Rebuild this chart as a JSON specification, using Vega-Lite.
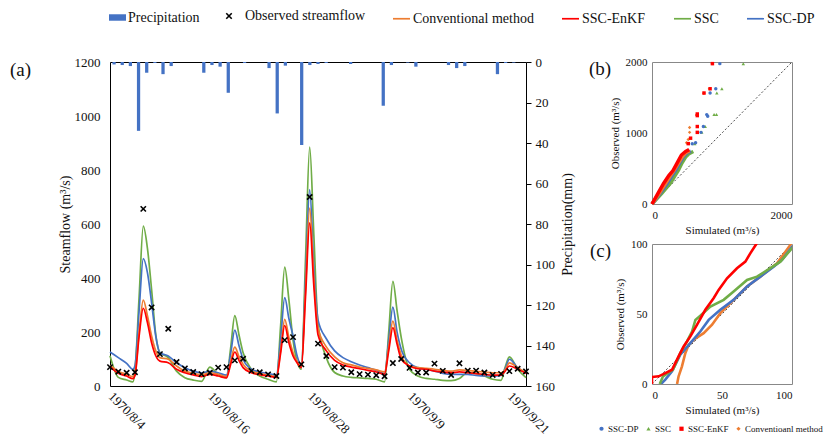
{
"$schema": "https://vega.github.io/schema/vega-lite/v6.json",
"padding": {"left": 10, "top": 9, "right": 0, "bottom": 0},
"bounds": "flush",
"spacing": 126,
"config": {
 "font": "Liberation Serif",
 "view": {"stroke": null},
 "axis": {"labelFont": "Liberation Serif", "titleFont": "Liberation Serif", "labelColor": "#111", "titleColor": "#111", "titleFontWeight": "normal", "grid": false},
 "legend": {"labelFont": "Liberation Serif", "labelColor": "#111"},
 "title": {"font": "Liberation Serif", "fontWeight": "normal", "color": "#111"}
},
"resolve": {
 "scale": {"stroke": "independent", "shape": "independent", "color": "independent", "fill": "independent"},
 "legend": {"stroke": "independent", "shape": "independent", "color": "independent", "fill": "independent"}
},
"datasets": {
 "sim": [
  {"t":"1970-08-04T00:00","SSC":112,"SSC-DP":126,"Conventional method":76,"SSC-EnKF":72},
  {"t":"1970-08-05T00:00","SSC":32,"SSC-DP":105,"Conventional method":55,"SSC-EnKF":47},
  {"t":"1970-08-06T00:00","SSC":22,"SSC-DP":84,"Conventional method":43,"SSC-EnKF":37},
  {"t":"1970-08-06T18:00","SSC":15,"SSC-DP":62,"Conventional method":35,"SSC-EnKF":27},
  {"t":"1970-08-07T00:00","SSC":55,"SSC-DP":75,"Conventional method":45,"SSC-EnKF":38},
  {"t":"1970-08-07T12:00","SSC":330,"SSC-DP":280,"Conventional method":200,"SSC-EnKF":185},
  {"t":"1970-08-08T00:00","SSC":592,"SSC-DP":472,"Conventional method":318,"SSC-EnKF":288},
  {"t":"1970-08-08T12:00","SSC":510,"SSC-DP":420,"Conventional method":260,"SSC-EnKF":235},
  {"t":"1970-08-09T00:00","SSC":357,"SSC-DP":308,"Conventional method":185,"SSC-EnKF":160},
  {"t":"1970-08-09T12:00","SSC":190,"SSC-DP":185,"Conventional method":130,"SSC-EnKF":112},
  {"t":"1970-08-10T00:00","SSC":123,"SSC-DP":123,"Conventional method":105,"SSC-EnKF":92},
  {"t":"1970-08-11T00:00","SSC":105,"SSC-DP":111,"Conventional method":99,"SSC-EnKF":86},
  {"t":"1970-08-12T00:00","SSC":55,"SSC-DP":86,"Conventional method":74,"SSC-EnKF":62},
  {"t":"1970-08-13T00:00","SSC":31,"SSC-DP":68,"Conventional method":55,"SSC-EnKF":49},
  {"t":"1970-08-14T00:00","SSC":22,"SSC-DP":55,"Conventional method":47,"SSC-EnKF":41},
  {"t":"1970-08-15T00:00","SSC":17,"SSC-DP":49,"Conventional method":41,"SSC-EnKF":35},
  {"t":"1970-08-16T00:00","SSC":70,"SSC-DP":54,"Conventional method":49,"SSC-EnKF":43},
  {"t":"1970-08-17T00:00","SSC":43,"SSC-DP":49,"Conventional method":43,"SSC-EnKF":37},
  {"t":"1970-08-18T00:00","SSC":31,"SSC-DP":40,"Conventional method":35,"SSC-EnKF":30},
  {"t":"1970-08-18T12:00","SSC":140,"SSC-DP":120,"Conventional method":90,"SSC-EnKF":80},
  {"t":"1970-08-19T00:00","SSC":261,"SSC-DP":207,"Conventional method":144,"SSC-EnKF":126},
  {"t":"1970-08-19T12:00","SSC":190,"SSC-DP":150,"Conventional method":110,"SSC-EnKF":95},
  {"t":"1970-08-20T00:00","SSC":123,"SSC-DP":99,"Conventional method":80,"SSC-EnKF":68},
  {"t":"1970-08-21T00:00","SSC":62,"SSC-DP":62,"Conventional method":55,"SSC-EnKF":49},
  {"t":"1970-08-22T00:00","SSC":37,"SSC-DP":52,"Conventional method":47,"SSC-EnKF":42},
  {"t":"1970-08-23T00:00","SSC":25,"SSC-DP":46,"Conventional method":40,"SSC-EnKF":37},
  {"t":"1970-08-24T00:00","SSC":15,"SSC-DP":41,"Conventional method":35,"SSC-EnKF":32},
  {"t":"1970-08-24T12:00","SSC":220,"SSC-DP":170,"Conventional method":130,"SSC-EnKF":120},
  {"t":"1970-08-25T00:00","SSC":440,"SSC-DP":327,"Conventional method":247,"SSC-EnKF":224},
  {"t":"1970-08-25T12:00","SSC":320,"SSC-DP":250,"Conventional method":180,"SSC-EnKF":160},
  {"t":"1970-08-26T00:00","SSC":170,"SSC-DP":185,"Conventional method":123,"SSC-EnKF":111},
  {"t":"1970-08-26T12:00","SSC":90,"SSC-DP":110,"Conventional method":90,"SSC-EnKF":85},
  {"t":"1970-08-27T00:00","SSC":62,"SSC-DP":78,"Conventional method":74,"SSC-EnKF":68},
  {"t":"1970-08-27T12:00","SSC":470,"SSC-DP":400,"Conventional method":360,"SSC-EnKF":330},
  {"t":"1970-08-28T00:00","SSC":885,"SSC-DP":727,"Conventional method":659,"SSC-EnKF":604},
  {"t":"1970-08-28T12:00","SSC":560,"SSC-DP":440,"Conventional method":400,"SSC-EnKF":370},
  {"t":"1970-08-29T00:00","SSC":230,"SSC-DP":245,"Conventional method":215,"SSC-EnKF":190},
  {"t":"1970-08-30T00:00","SSC":105,"SSC-DP":175,"Conventional method":145,"SSC-EnKF":130},
  {"t":"1970-08-31T00:00","SSC":50,"SSC-DP":130,"Conventional method":108,"SSC-EnKF":95},
  {"t":"1970-09-01T00:00","SSC":37,"SSC-DP":105,"Conventional method":86,"SSC-EnKF":78},
  {"t":"1970-09-02T00:00","SSC":32,"SSC-DP":90,"Conventional method":78,"SSC-EnKF":70},
  {"t":"1970-09-03T00:00","SSC":30,"SSC-DP":78,"Conventional method":70,"SSC-EnKF":64},
  {"t":"1970-09-04T00:00","SSC":28,"SSC-DP":68,"Conventional method":65,"SSC-EnKF":58},
  {"t":"1970-09-05T00:00","SSC":25,"SSC-DP":58,"Conventional method":60,"SSC-EnKF":52},
  {"t":"1970-09-06T00:00","SSC":15,"SSC-DP":46,"Conventional method":52,"SSC-EnKF":44},
  {"t":"1970-09-06T12:00","SSC":200,"SSC-DP":170,"Conventional method":145,"SSC-EnKF":130},
  {"t":"1970-09-07T00:00","SSC":388,"SSC-DP":292,"Conventional method":240,"SSC-EnKF":216},
  {"t":"1970-09-07T12:00","SSC":280,"SSC-DP":200,"Conventional method":170,"SSC-EnKF":155},
  {"t":"1970-09-08T00:00","SSC":180,"SSC-DP":136,"Conventional method":115,"SSC-EnKF":100},
  {"t":"1970-09-09T00:00","SSC":62,"SSC-DP":86,"Conventional method":74,"SSC-EnKF":74},
  {"t":"1970-09-10T00:00","SSC":37,"SSC-DP":68,"Conventional method":68,"SSC-EnKF":64},
  {"t":"1970-09-11T00:00","SSC":28,"SSC-DP":62,"Conventional method":65,"SSC-EnKF":62},
  {"t":"1970-09-12T00:00","SSC":25,"SSC-DP":55,"Conventional method":62,"SSC-EnKF":55},
  {"t":"1970-09-13T00:00","SSC":21,"SSC-DP":47,"Conventional method":58,"SSC-EnKF":52},
  {"t":"1970-09-14T00:00","SSC":20,"SSC-DP":43,"Conventional method":55,"SSC-EnKF":49},
  {"t":"1970-09-15T00:00","SSC":28,"SSC-DP":43,"Conventional method":60,"SSC-EnKF":52},
  {"t":"1970-09-16T00:00","SSC":50,"SSC-DP":43,"Conventional method":58,"SSC-EnKF":49},
  {"t":"1970-09-17T00:00","SSC":47,"SSC-DP":39,"Conventional method":54,"SSC-EnKF":46},
  {"t":"1970-09-18T00:00","SSC":37,"SSC-DP":37,"Conventional method":52,"SSC-EnKF":43},
  {"t":"1970-09-19T00:00","SSC":25,"SSC-DP":37,"Conventional method":49,"SSC-EnKF":40},
  {"t":"1970-09-20T00:00","SSC":21,"SSC-DP":39,"Conventional method":49,"SSC-EnKF":40},
  {"t":"1970-09-20T12:00","SSC":70,"SSC-DP":65,"Conventional method":60,"SSC-EnKF":55},
  {"t":"1970-09-21T00:00","SSC":108,"SSC-DP":99,"Conventional method":86,"SSC-EnKF":74},
  {"t":"1970-09-22T00:00","SSC":62,"SSC-DP":68,"Conventional method":68,"SSC-EnKF":62},
  {"t":"1970-09-23T00:00","SSC":31,"SSC-DP":47,"Conventional method":49,"SSC-EnKF":47}
 ],
 "obs": [
  {"t":"1970-08-04T00:00","q":70},{"t":"1970-08-05T00:00","q":53},{"t":"1970-08-06T00:00","q":49},{"t":"1970-08-07T00:00","q":51},
  {"t":"1970-08-08T00:00","q":656},{"t":"1970-08-09T00:00","q":291},{"t":"1970-08-10T00:00","q":118},{"t":"1970-08-11T00:00","q":212},
  {"t":"1970-08-12T00:00","q":89},{"t":"1970-08-13T00:00","q":65},{"t":"1970-08-14T00:00","q":52},{"t":"1970-08-15T00:00","q":44},
  {"t":"1970-08-16T00:00","q":49},{"t":"1970-08-17T00:00","q":68},{"t":"1970-08-18T00:00","q":70},{"t":"1970-08-19T00:00","q":95},
  {"t":"1970-08-20T00:00","q":101},{"t":"1970-08-21T00:00","q":56},{"t":"1970-08-22T00:00","q":51},{"t":"1970-08-23T00:00","q":43},
  {"t":"1970-08-24T00:00","q":37},{"t":"1970-08-25T00:00","q":170},{"t":"1970-08-26T00:00","q":181},{"t":"1970-08-27T00:00","q":80},
  {"t":"1970-08-28T00:00","q":700},{"t":"1970-08-29T00:00","q":157},{"t":"1970-08-30T00:00","q":111},{"t":"1970-08-31T00:00","q":70},
  {"t":"1970-09-01T00:00","q":68},{"t":"1970-09-02T00:00","q":51},{"t":"1970-09-03T00:00","q":44},{"t":"1970-09-04T00:00","q":42},
  {"t":"1970-09-05T00:00","q":40},{"t":"1970-09-06T00:00","q":36},{"t":"1970-09-07T00:00","q":85},{"t":"1970-09-08T00:00","q":100},
  {"t":"1970-09-09T00:00","q":67},{"t":"1970-09-10T00:00","q":50},{"t":"1970-09-11T00:00","q":50},{"t":"1970-09-12T00:00","q":83},
  {"t":"1970-09-13T00:00","q":56},{"t":"1970-09-14T00:00","q":41},{"t":"1970-09-15T00:00","q":84},{"t":"1970-09-16T00:00","q":57},
  {"t":"1970-09-17T00:00","q":57},{"t":"1970-09-18T00:00","q":50},{"t":"1970-09-19T00:00","q":41},{"t":"1970-09-20T00:00","q":45},
  {"t":"1970-09-21T00:00","q":55},{"t":"1970-09-22T00:00","q":64},{"t":"1970-09-23T00:00","q":54}
 ],
 "precip": [
  {"t":"1970-08-04","p":1.2},{"t":"1970-08-05","p":1.5},{"t":"1970-08-06","p":2},{"t":"1970-08-07","p":34},
  {"t":"1970-08-08","p":5.3},{"t":"1970-08-09","p":0.5},{"t":"1970-08-10","p":6},{"t":"1970-08-11","p":2},
  {"t":"1970-08-12","p":0},{"t":"1970-08-13","p":0},{"t":"1970-08-14","p":0},{"t":"1970-08-15","p":5.3},
  {"t":"1970-08-16","p":1.5},{"t":"1970-08-17","p":2.3},{"t":"1970-08-18","p":15.2},{"t":"1970-08-19","p":0},
  {"t":"1970-08-20","p":0.5},{"t":"1970-08-21","p":0},{"t":"1970-08-22","p":0},{"t":"1970-08-23","p":3},
  {"t":"1970-08-24","p":25.4},{"t":"1970-08-25","p":1.8},{"t":"1970-08-26","p":0},{"t":"1970-08-27","p":41},
  {"t":"1970-08-28","p":1.5},{"t":"1970-08-29","p":1},{"t":"1970-08-30","p":0.5},{"t":"1970-08-31","p":0},
  {"t":"1970-09-01","p":0},{"t":"1970-09-02","p":1},{"t":"1970-09-03","p":0},{"t":"1970-09-04","p":0},
  {"t":"1970-09-05","p":0},{"t":"1970-09-06","p":21.6},{"t":"1970-09-07","p":1.5},{"t":"1970-09-08","p":0},
  {"t":"1970-09-09","p":0.3},{"t":"1970-09-10","p":2.3},{"t":"1970-09-11","p":0},{"t":"1970-09-12","p":0},
  {"t":"1970-09-13","p":0},{"t":"1970-09-14","p":1.5},{"t":"1970-09-15","p":3},{"t":"1970-09-16","p":2},
  {"t":"1970-09-17","p":0},{"t":"1970-09-18","p":0},{"t":"1970-09-19","p":0},{"t":"1970-09-20","p":6},
  {"t":"1970-09-21","p":0.5},{"t":"1970-09-22","p":0.3},{"t":"1970-09-23","p":0}
 ],
 "qqb_lines": [
  {"s":"SSC","sim":0,"obs":0},{"s":"SSC","sim":140,"obs":150},{"s":"SSC","sim":260,"obs":290},{"s":"SSC","sim":330,"obs":400},{"s":"SSC","sim":380,"obs":480},{"s":"SSC","sim":430,"obs":580},{"s":"SSC","sim":480,"obs":660},{"s":"SSC","sim":530,"obs":710},{"s":"SSC","sim":590,"obs":740},
  {"s":"SSC-DP","sim":0,"obs":0},{"s":"SSC-DP","sim":115,"obs":150},{"s":"SSC-DP","sim":215,"obs":290},{"s":"SSC-DP","sim":285,"obs":400},{"s":"SSC-DP","sim":340,"obs":480},{"s":"SSC-DP","sim":395,"obs":580},{"s":"SSC-DP","sim":445,"obs":660},{"s":"SSC-DP","sim":500,"obs":720},{"s":"SSC-DP","sim":555,"obs":745},
  {"s":"Conventioanl method","sim":0,"obs":0},{"s":"Conventioanl method","sim":105,"obs":150},{"s":"Conventioanl method","sim":195,"obs":290},{"s":"Conventioanl method","sim":265,"obs":400},{"s":"Conventioanl method","sim":320,"obs":480},{"s":"Conventioanl method","sim":380,"obs":580},{"s":"Conventioanl method","sim":430,"obs":660},{"s":"Conventioanl method","sim":480,"obs":720},{"s":"Conventioanl method","sim":540,"obs":750},
  {"s":"SSC-EnKF","sim":0,"obs":0},{"s":"SSC-EnKF","sim":85,"obs":150},{"s":"SSC-EnKF","sim":165,"obs":290},{"s":"SSC-EnKF","sim":240,"obs":400},{"s":"SSC-EnKF","sim":300,"obs":470},{"s":"SSC-EnKF","sim":360,"obs":580},{"s":"SSC-EnKF","sim":420,"obs":690},{"s":"SSC-EnKF","sim":480,"obs":740},{"s":"SSC-EnKF","sim":530,"obs":765}
 ],
 "qqb_pts": [
  {"s":"SSC","sim":610,"obs":850},{"s":"SSC","sim":710,"obs":1009},{"s":"SSC","sim":760,"obs":1091},{"s":"SSC","sim":887,"obs":1259},{"s":"SSC","sim":921,"obs":1259},{"s":"SSC","sim":926,"obs":1563},{"s":"SSC","sim":998,"obs":1623},{"s":"SSC","sim":1304,"obs":1977},
  {"s":"SSC-DP","sim":575,"obs":850},{"s":"SSC-DP","sim":623,"obs":864},{"s":"SSC-DP","sim":700,"obs":1009},{"s":"SSC-DP","sim":734,"obs":1091},{"s":"SSC-DP","sim":796,"obs":1236},{"s":"SSC-DP","sim":782,"obs":1259},{"s":"SSC-DP","sim":830,"obs":1563},{"s":"SSC-DP","sim":911,"obs":1623},{"s":"SSC-DP","sim":969,"obs":1977},
  {"s":"Conventioanl method","sim":494,"obs":864},{"s":"Conventioanl method","sim":518,"obs":909},{"s":"Conventioanl method","sim":537,"obs":1009},{"s":"Conventioanl method","sim":537,"obs":1077},{"s":"Conventioanl method","sim":640,"obs":1250},{"s":"Conventioanl method","sim":740,"obs":1560},{"s":"Conventioanl method","sim":820,"obs":1623},{"s":"Conventioanl method","sim":860,"obs":1977},
  {"s":"SSC-EnKF","sim":518,"obs":850},{"s":"SSC-EnKF","sim":551,"obs":927},{"s":"SSC-EnKF","sim":647,"obs":1009},{"s":"SSC-EnKF","sim":647,"obs":1091},{"s":"SSC-EnKF","sim":647,"obs":1245},{"s":"SSC-EnKF","sim":647,"obs":1268},{"s":"SSC-EnKF","sim":743,"obs":1563},{"s":"SSC-EnKF","sim":830,"obs":1623},{"s":"SSC-EnKF","sim":863,"obs":1977}
 ],
 "qqc": [
  {"s":"Conventioanl method","sim":17.9,"obs":0},{"s":"Conventioanl method","sim":19,"obs":5.5},{"s":"Conventioanl method","sim":21.4,"obs":12.6},{"s":"Conventioanl method","sim":23.8,"obs":22},{"s":"Conventioanl method","sim":26.2,"obs":28},{"s":"Conventioanl method","sim":29.8,"obs":31.6},{"s":"Conventioanl method","sim":36.9,"obs":36.3},{"s":"Conventioanl method","sim":42.9,"obs":42.3},{"s":"Conventioanl method","sim":48.8,"obs":50.6},{"s":"Conventioanl method","sim":58.3,"obs":60.1},{"s":"Conventioanl method","sim":67.9,"obs":69.6},{"s":"Conventioanl method","sim":77.4,"obs":76.7},{"s":"Conventioanl method","sim":89.3,"obs":86.2},{"s":"Conventioanl method","sim":98.8,"obs":99.3},{"s":"Conventioanl method","sim":100,"obs":101},
  {"s":"SSC-DP","sim":6.4,"obs":0},{"s":"SSC-DP","sim":9.5,"obs":3.1},{"s":"SSC-DP","sim":14.3,"obs":9},{"s":"SSC-DP","sim":20.2,"obs":20.9},{"s":"SSC-DP","sim":27.4,"obs":29.2},{"s":"SSC-DP","sim":34.5,"obs":37.5},{"s":"SSC-DP","sim":40.5,"obs":45.8},{"s":"SSC-DP","sim":48.8,"obs":53},{"s":"SSC-DP","sim":58.3,"obs":60.1},{"s":"SSC-DP","sim":67.9,"obs":69.6},{"s":"SSC-DP","sim":77.4,"obs":76.7},{"s":"SSC-DP","sim":86.9,"obs":83.8},{"s":"SSC-DP","sim":92.9,"obs":88.6},{"s":"SSC-DP","sim":100,"obs":98},{"s":"SSC-DP","sim":102,"obs":100},
  {"s":"SSC","sim":5.5,"obs":0},{"s":"SSC","sim":7.9,"obs":5.5},{"s":"SSC","sim":10.7,"obs":7.4},{"s":"SSC","sim":15,"obs":10.2},{"s":"SSC","sim":20.2,"obs":22},{"s":"SSC","sim":25,"obs":30.4},{"s":"SSC","sim":28.6,"obs":37.5},{"s":"SSC","sim":31,"obs":45.8},{"s":"SSC","sim":34.5,"obs":48.7},{"s":"SSC","sim":41.7,"obs":55.3},{"s":"SSC","sim":51.2,"obs":60.1},{"s":"SSC","sim":58.3,"obs":66},{"s":"SSC","sim":67.9,"obs":74.3},{"s":"SSC","sim":75,"obs":76.7},{"s":"SSC","sim":84.5,"obs":82.7},{"s":"SSC","sim":91.7,"obs":87.4},{"s":"SSC","sim":100,"obs":97},{"s":"SSC","sim":103,"obs":100},
  {"s":"SSC-EnKF","sim":0,"obs":0},{"s":"SSC-EnKF","sim":0,"obs":5},{"s":"SSC-EnKF","sim":4.8,"obs":5.5},{"s":"SSC-EnKF","sim":9.5,"obs":7.8},{"s":"SSC-EnKF","sim":14.3,"obs":10.2},{"s":"SSC-EnKF","sim":19,"obs":19.7},{"s":"SSC-EnKF","sim":22.6,"obs":26.8},{"s":"SSC-EnKF","sim":27.4,"obs":34},{"s":"SSC-EnKF","sim":32.1,"obs":42.3},{"s":"SSC-EnKF","sim":38.1,"obs":53},{"s":"SSC-EnKF","sim":44,"obs":61.3},{"s":"SSC-EnKF","sim":47.6,"obs":67.2},{"s":"SSC-EnKF","sim":53.6,"obs":75.5},{"s":"SSC-EnKF","sim":60.7,"obs":82.7},{"s":"SSC-EnKF","sim":66.7,"obs":87.4},{"s":"SSC-EnKF","sim":70.2,"obs":93.3},{"s":"SSC-EnKF","sim":74.5,"obs":100},{"s":"SSC-EnKF","sim":76,"obs":103}
 ]
},
"hconcat": [
 {
  "width": 416,
  "height": 324,
  "title": {"text": "(a)", "orient": "top", "anchor": "start", "frame": "group", "dx": -100, "dy": 71, "offset": 0, "fontSize": 19, "baseline": "top"},
  "resolve": {"scale": {"x": "independent", "y": "independent"}},
  "layer": [
   {
    "data": {"name": "precip"},
    "mark": {"type": "bar"},
    "encoding": {
     "x": {"field": "t", "type": "ordinal", "scale": {"paddingInner": 0.6, "paddingOuter": 0.3},
           "axis": {"orient": "top", "labels": false, "ticks": false, "title": null, "domainColor": "#000"}},
     "y": {"field": "p", "type": "quantitative", "scale": {"domain": [0, 160], "reverse": true, "nice": false},
           "axis": {"orient": "right", "values": [0,20,40,60,80,100,120,140,160], "format": "d", "title": "Precipitation(mm)", "titleAngle": 270, "titleBaseline": "top",
                    "titlePadding": 6, "titleFontSize": 14, "labelFontSize": 13, "labelPadding": 4, "tickSize": 5, "tickColor": "#000", "domainColor": "#000"}},
     "fill": {"datum": "Precipitation", "type": "nominal", "scale": {"range": ["#4472C4"]},
              "legend": {"orient": "none", "legendX": -1, "legendY": -53, "title": null, "symbolType": "M-1,-0.38H1V0.38H-1Z", "symbolSize": 289,
                         "symbolStrokeWidth": 0, "labelFont": "Liberation Serif", "labelFontSize": 14, "labelOffset": 2, "padding": 0}}
    }
   },
   {
    "layer": [
     {
      "data": {"name": "sim"},
      "transform": [{"fold": ["SSC", "SSC-DP", "Conventional method", "SSC-EnKF"], "as": ["series", "v"]}],
      "mark": {"type": "line", "interpolate": "monotone", "strokeWidth": 1.7},
      "encoding": {
       "x": {"field": "t", "type": "temporal",
             "scale": {"domain": [{"year": 1970, "month": 8, "date": 4}, {"year": 1970, "month": 9, "date": 23}]},
             "axis": {"values": [{"year": 1970, "month": 8, "date": 4}, {"year": 1970, "month": 8, "date": 16}, {"year": 1970, "month": 8, "date": 28}, {"year": 1970, "month": 9, "date": 9}, {"year": 1970, "month": 9, "date": 21}],
                      "format": "%Y/%-m/%-d", "labelAngle": 45, "labelAlign": "left", "labelBaseline": "middle", "ticks": false, "title": null,
                      "domainColor": "#000", "labelPadding": 8, "labelFontSize": 13, "labelOverlap": false, "labelFlush": false, "labelBound": false}},
       "y": {"field": "v", "type": "quantitative", "scale": {"domain": [0, 1200], "nice": false},
             "axis": {"values": [0,200,400,600,800,1000,1200], "format": "d", "title": "Steamflow (m³/s)", "ticks": false, "domainColor": "#000",
                      "labelPadding": 10, "titlePadding": 2, "labelFontSize": 13, "titleFontSize": 14}},
       "stroke": {"field": "series", "type": "nominal",
                  "scale": {"domain": ["Conventional method", "SSC-EnKF", "SSC", "SSC-DP"], "range": ["#ED7D31", "#FF0000", "#70AD47", "#4472C4"]},
                  "legend": {"orient": "none", "legendX": 282, "legendY": -53, "direction": "horizontal", "title": null, "symbolType": "stroke",
                             "symbolSize": 289, "symbolStrokeWidth": 1.7, "labelFont": "Liberation Serif", "labelFontSize": 14, "labelOffset": 2, "columnPadding": 24, "padding": 0}}
      }
     },
     {
      "data": {"name": "obs"},
      "mark": {"type": "point", "filled": false, "color": "#000", "strokeWidth": 1.6, "size": 28, "opacity": 1},
      "encoding": {
       "x": {"field": "t", "type": "temporal"},
       "y": {"field": "q", "type": "quantitative"},
       "shape": {"datum": "Observed streamflow", "type": "nominal", "scale": {"range": ["M-1,-1L1,1M-1,1L1,-1"]},
                 "legend": {"orient": "none", "legendX": 112, "legendY": -53, "title": null, "symbolSize": 30, "symbolStrokeColor": "#000",
                            "symbolStrokeWidth": 1.6, "symbolFillColor": "transparent", "labelFont": "Liberation Serif", "labelFontSize": 14, "labelOffset": 9, "padding": 0}}
      }
     }
    ]
   }
  ]
 },
 {
  "bounds": "flush",
  "spacing": 40,
  "resolve": {"legend": {"color": "independent", "shape": "independent"}},
  "vconcat": [
   {
    "width": 140,
    "height": 142,
    "view": {"stroke": "#888"},
    "title": {"text": "(b)", "orient": "top", "anchor": "start", "frame": "group", "dx": -63, "dy": 23, "offset": 0, "fontSize": 19, "baseline": "top"},
    "layer": [
     {
      "data": {"values": [{}]},
      "mark": {"type": "rule", "strokeDash": [2, 2], "color": "#000", "strokeWidth": 0.7},
      "encoding": {
       "x": {"datum": 0, "type": "quantitative", "scale": {"domain": [0, 2000], "nice": false},
             "axis": {"values": [0, 2000], "format": "d", "title": "Simulated (m³/s)", "domain": false, "ticks": false, "labelFont": "Liberation Serif", "titleFont": "Liberation Serif", "labelFontSize": 11, "titleFontSize": 11, "labelPadding": 5, "titlePadding": 4}},
       "y": {"datum": 0, "type": "quantitative", "scale": {"domain": [0, 2000], "nice": false},
             "axis": {"values": [0, 1000, 2000], "format": "d", "title": "Observed (m³/s)", "domain": false, "ticks": false, "labelFont": "Liberation Serif", "titleFont": "Liberation Serif", "labelFontSize": 11, "titleFontSize": 11, "labelPadding": 5, "titlePadding": 5}},
       "x2": {"datum": 2000},
       "y2": {"datum": 2000}
      }
     },
     {
      "data": {"name": "qqb_lines"},
      "mark": {"type": "line", "strokeWidth": 3.5},
      "encoding": {
       "x": {"field": "sim", "type": "quantitative"},
       "y": {"field": "obs", "type": "quantitative"},
       "order": {"field": "obs", "type": "quantitative"},
       "stroke": {"field": "s", "type": "nominal", "scale": {"domain": ["SSC-DP", "SSC", "SSC-EnKF", "Conventioanl method"], "range": ["#4472C4", "#70AD47", "#FF0000", "#ED7D31"]}, "legend": null}
      }
     },
     {
      "data": {"name": "qqb_pts"},
      "mark": {"type": "point", "filled": true, "size": 12, "opacity": 1},
      "encoding": {
       "x": {"field": "sim", "type": "quantitative"},
       "y": {"field": "obs", "type": "quantitative"},
       "color": {"field": "s", "type": "nominal", "scale": {"domain": ["SSC-DP", "SSC", "SSC-EnKF", "Conventioanl method"], "range": ["#4472C4", "#70AD47", "#FF0000", "#ED7D31"]},
                 "legend": {"orient": "none", "legendX": -55, "legendY": 362, "direction": "horizontal", "title": null, "labelFont": "Liberation Serif", "labelFontSize": 9, "symbolSize": 18,
                            "symbolStrokeWidth": 0, "columnPadding": 5, "labelOffset": 2, "padding": 0}},
       "shape": {"field": "s", "type": "nominal", "scale": {"domain": ["SSC-DP", "SSC", "SSC-EnKF", "Conventioanl method"], "range": ["circle", "triangle-up", "square", "diamond"]},
                 "legend": {"orient": "none", "legendX": -55, "legendY": 362, "direction": "horizontal", "title": null, "labelFont": "Liberation Serif", "labelFontSize": 9, "symbolSize": 18,
                            "symbolStrokeWidth": 0, "columnPadding": 5, "labelOffset": 2, "padding": 0}}
      }
     }
    ]
   },
   {
    "width": 140,
    "height": 140,
    "view": {"stroke": "#888"},
    "title": {"text": "(c)", "orient": "top", "anchor": "start", "frame": "group", "dx": -62, "dy": 23, "offset": 0, "fontSize": 19, "baseline": "top"},
    "layer": [
     {
      "data": {"values": [{}]},
      "mark": {"type": "rule", "strokeDash": [2, 2], "color": "#000", "strokeWidth": 0.7},
      "encoding": {
       "x": {"datum": 0, "type": "quantitative", "scale": {"domain": [0, 100], "nice": false},
             "axis": {"values": [0, 50, 100], "title": "Simulated (m³/s)", "domain": false, "ticks": false, "labelFont": "Liberation Serif", "titleFont": "Liberation Serif", "labelFontSize": 11, "titleFontSize": 11, "labelPadding": 5, "titlePadding": 4}},
       "y": {"datum": 0, "type": "quantitative", "scale": {"domain": [0, 100], "nice": false},
             "axis": {"values": [0, 50, 100], "title": "Observed (m³/s)", "domain": false, "ticks": false, "labelFont": "Liberation Serif", "titleFont": "Liberation Serif", "labelFontSize": 11, "titleFontSize": 11, "labelPadding": 5, "titlePadding": 5}},
       "x2": {"datum": 100},
       "y2": {"datum": 100}
      }
     },
     {
      "data": {"name": "qqc"},
      "mark": {"type": "line", "strokeWidth": 2.6, "clip": true},
      "encoding": {
       "x": {"field": "sim", "type": "quantitative"},
       "y": {"field": "obs", "type": "quantitative"},
       "order": {"field": "obs", "type": "quantitative"},
       "stroke": {"field": "s", "type": "nominal", "scale": {"domain": ["SSC-DP", "SSC", "SSC-EnKF", "Conventioanl method"], "range": ["#4472C4", "#70AD47", "#FF0000", "#ED7D31"]}, "legend": null}
      }
     }
    ]
   }
  ]
 }
]
}
